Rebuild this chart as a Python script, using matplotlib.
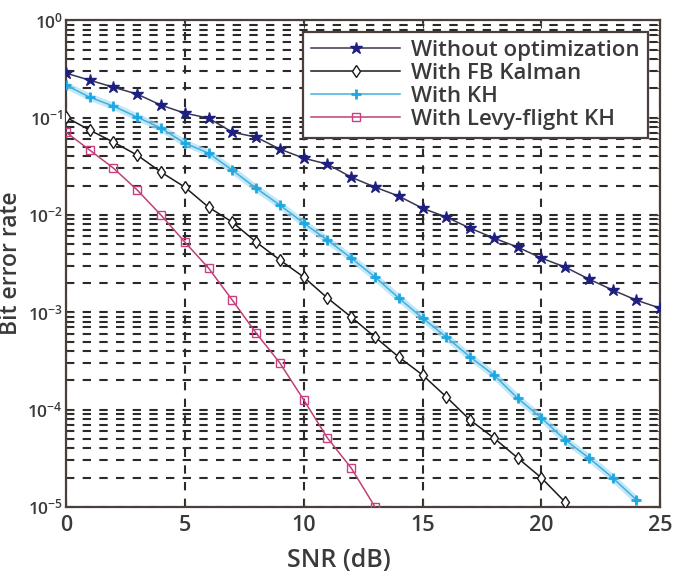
import numpy as np
import matplotlib
matplotlib.use("Agg")
import matplotlib.pyplot as plt
from matplotlib.ticker import LogLocator, NullFormatter

plt.rcParams['font.family'] = ['Open Sans', 'DejaVu Sans']

snr_wo = list(range(0, 26))
ber_wo = [0.286, 0.242, 0.205, 0.174, 0.134, 0.111, 0.0986, 0.0708, 0.0629, 0.0474,
          0.0383, 0.0332, 0.0244, 0.0193, 0.0156, 0.0117, 0.00949, 0.00731, 0.00578,
          0.00467, 0.00360, 0.00291, 0.00219, 0.00169, 0.00133, 0.00110]

snr_fb = list(range(0, 22))
ber_fb = [0.101, 0.0743, 0.0559, 0.0411, 0.0275, 0.0193, 0.0120, 0.00843, 0.00526,
          0.00344, 0.00230, 0.00140, 0.000893, 0.000556, 0.000347, 0.000227,
          0.000135, 7.82e-5, 5.11e-5, 3.19e-5, 1.99e-5, 1.12e-5]

snr_kh = list(range(0, 25))
ber_kh = [0.215, 0.162, 0.131, 0.101, 0.0778, 0.0546, 0.0431, 0.0288, 0.0188, 0.0126,
          0.00824, 0.00551, 0.00360, 0.00230, 0.00140, 0.000872, 0.000556, 0.000347,
          0.000227, 0.000131, 8.2e-5, 4.88e-5, 3.19e-5, 1.99e-5, 1.18e-5]

snr_lv = list(range(0, 14))
ber_lv = [0.0708, 0.0463, 0.0302, 0.0180, 0.00995, 0.00526, 0.00284, 0.00133,
          0.000611, 0.000301, 0.000126, 5.11e-5, 2.51e-5, 1.0e-5]

labels = ["Without optimization", "With FB Kalman", "With KH", "With Levy-flight KH"]
x_ticks = [0, 5, 10, 15, 20, 25]

fig = plt.figure(figsize=(6.73, 5.78), dpi=100)
ax = fig.add_axes([0.098, 0.123, 0.883, 0.842])

ax.set_yscale('log')
ax.set_xlim(0, 25)
ax.set_ylim(1e-5, 1e0)
ax.set_xticks(x_ticks)
ax.yaxis.set_major_locator(LogLocator(base=10, numticks=10))
ax.yaxis.set_minor_locator(LogLocator(base=10, subs=np.arange(2, 10), numticks=10))
ax.yaxis.set_minor_formatter(NullFormatter())

gcol = '#2a2a2a'
ax.grid(True, which='major', axis='both', linestyle=(0, (4, 4)), linewidth=1.5, color=gcol)
ax.grid(True, which='minor', axis='y', linestyle=(0, (4, 4)), linewidth=1.5, color=gcol)
ax.set_axisbelow(True)

# Glow for KH curve
ax.plot(snr_kh, ber_kh, color='#a8dff5', linewidth=5, alpha=0.7, zorder=2)

ax.plot(snr_wo, ber_wo, color='#3a3550', linewidth=1.1, marker='*', markersize=9,
        markerfacecolor='#1f1f80', markeredgecolor='#1f1f80', label=labels[0], zorder=4)
ax.plot(snr_fb, ber_fb, color='#1a1a1a', linewidth=1.1, marker='d', markersize=6,
        markerfacecolor='white', markeredgecolor='#1a1a1a', label=labels[1], zorder=4)
ax.plot(snr_kh, ber_kh, color='#40b0e0', linewidth=1.1, marker='+', markersize=7,
        markeredgewidth=2, markeredgecolor='#1da8e0', label=labels[2], zorder=3)
ax.plot(snr_lv, ber_lv, color='#c04078', linewidth=1.1, marker='s', markersize=6,
        markerfacecolor='none', markeredgecolor='#c84080', label=labels[3], zorder=4)

spine_col = '#4a3f3a'
for s in ax.spines.values():
    s.set_color(spine_col)
    s.set_linewidth(1.6)
ax.tick_params(axis='both', which='both', direction='in', colors=spine_col,
               labelcolor='#3a3a3a', right=True, top=True)
ax.tick_params(axis='x', labelsize=15.5, pad=6)
ax.tick_params(axis='y', labelsize=12.5, pad=2)
ax.tick_params(axis='both', which='major', length=6)
ax.tick_params(axis='y', which='minor', length=3)
for t in ax.get_xticklabels() + ax.get_yticklabels():
    t.set_fontweight('semibold')

ax.set_xlabel('SNR (dB)', fontsize=18, color='#3a3a3a', fontweight='semibold')
ax.xaxis.set_label_coords(0.46, -0.085)
ax.xaxis.label.set_va('top')
ax.set_ylabel('Bit error rate', fontsize=16.5, color='#3a3a3a', fontweight='semibold')
ax.yaxis.set_label_coords(-0.072, 0.5)

leg = ax.legend(loc='upper right', frameon=True, fancybox=False,
                edgecolor=spine_col, framealpha=1, borderpad=0.35, labelspacing=0.1,
                handlelength=4.0, handletextpad=0.5, borderaxespad=0.3,
                bbox_to_anchor=(0.99, 0.99), prop={'weight': 'semibold', 'size': 16})
leg.get_frame().set_linewidth(1.6)
for t in leg.get_texts():
    t.set_color('#3a3a3a')

fig.savefig('out.png', dpi=100)
